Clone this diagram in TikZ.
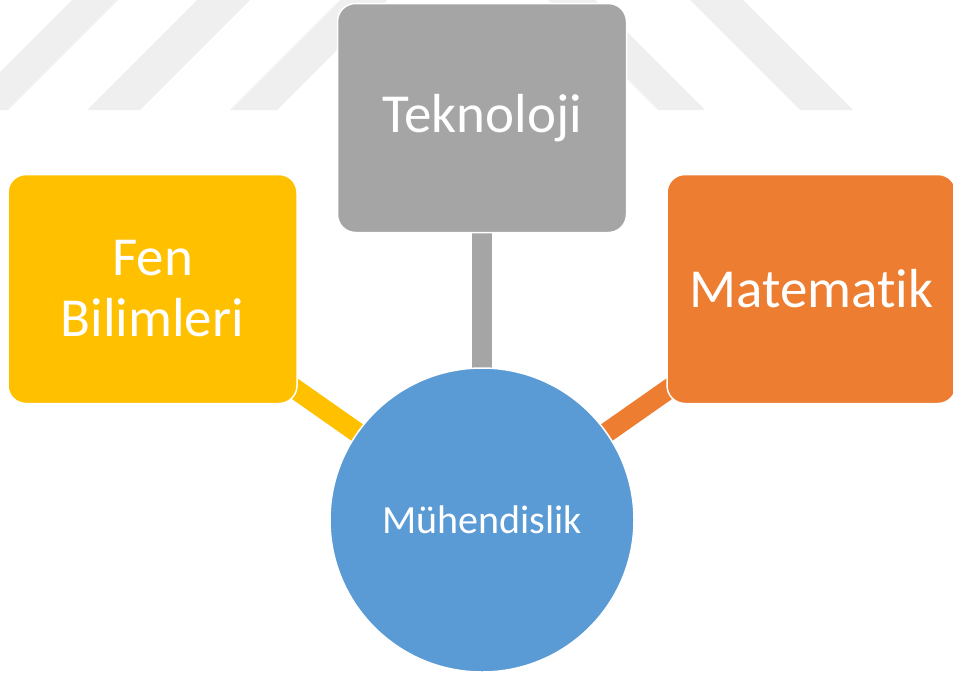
\documentclass[tikz,border=0pt]{standalone}
\usepackage{fontspec}
\setmainfont{Carlito}[Ligatures=NoCommon]
\usepackage{tikz}
\usetikzlibrary{positioning,backgrounds}

\definecolor{fenyellow}{HTML}{FFC000}
\definecolor{tekgray}{HTML}{A5A5A5}
\definecolor{matorange}{HTML}{ED7D31}
\definecolor{muhblue}{HTML}{5B9BD5}
\definecolor{seritgray}{HTML}{EFEFEF}

\begin{document}
\begin{tikzpicture}[x=1pt,y=1pt,on grid,
	kutu/.style={rectangle,rounded corners=18pt,draw=white,line width=1.5pt,text=white,
		minimum width=289pt,minimum height=229pt,inner sep=0pt,align=center,
		font=\fontsize{55}{61}\selectfont},
	merkez/.style={circle,fill=muhblue,draw=white,line width=1.5pt,text=white,
		minimum size=304pt,inner sep=0pt,font=\fontsize{40}{48}\selectfont},
	bag/.style={line width=20pt},
	serit/.style={fill=seritgray}]
	\useasboundingbox (0,0) rectangle (953,-673);

	\node[merkez]                 (muh) at (482,-520) {Mühendislik};
	\node[kutu,fill=tekgray]      (tek) [above=402pt of muh] {Teknoloji};
	\node[kutu,fill=fenyellow]    (fen) [above left=231pt and 329.5pt of muh] {Fen\\Bilimleri};
	\node[kutu,fill=matorange]    (mat) [above right=231pt and 329.5pt of muh] {Matematik};

	\begin{pgfonlayer}{background}
		\foreach \a/\b in {72/118,197/250,340/387}
			\fill[serit] (\a,0) -- (\b,0) -- ({\b-110},-110) -- ({\a-110},-110) -- cycle;
		\foreach \a/\b in {548/595,690/743}
			\fill[serit] (\a,0) -- (\b,0) -- ({\b+110},-110) -- ({\a+110},-110) -- cycle;

		\path (fen.center) edge [bag,draw=fenyellow] (muh.center)
		      (tek.center) edge [bag,draw=tekgray]   (muh.center)
		      (mat.center) edge [bag,draw=matorange] (muh.center);
	\end{pgfonlayer}
\end{tikzpicture}
\end{document}
